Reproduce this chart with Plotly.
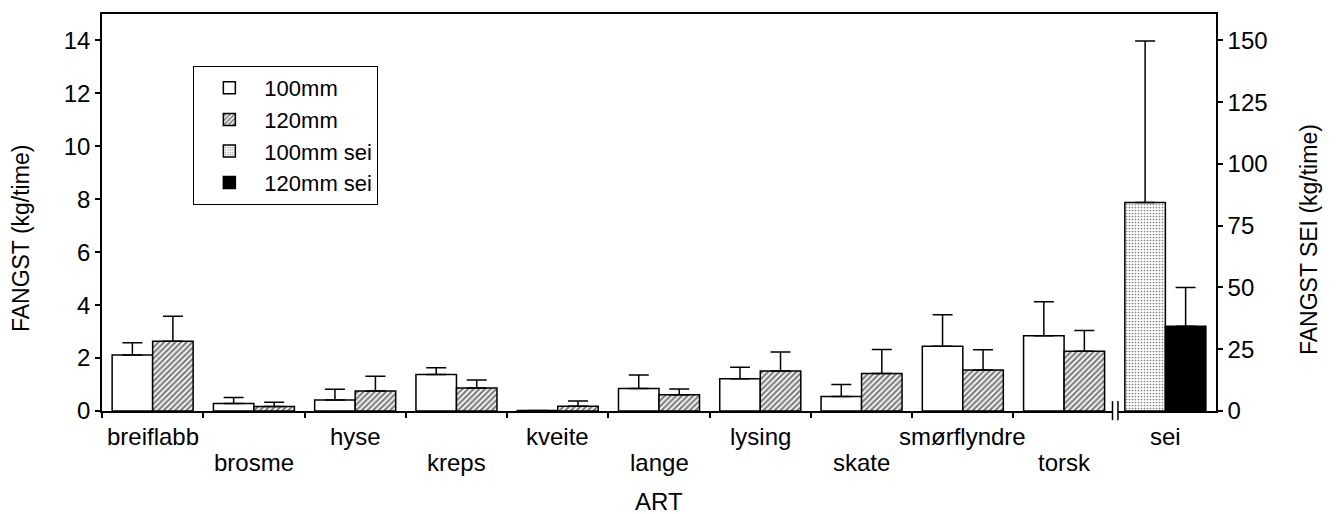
import plotly.graph_objects as go

categories = ["breiflabb", "brosme", "hyse", "kreps", "kveite", "lange",
              "lysing", "skate", "smørflyndre", "torsk"]
sei_category = "sei"

mean_100 = [2.12, 0.28, 0.42, 1.38, 0.02, 0.85, 1.22, 0.55, 2.45, 2.84]
err_100 = [0.46, 0.23, 0.40, 0.25, 0.00, 0.51, 0.43, 0.45, 1.19, 1.29]
mean_120 = [2.64, 0.17, 0.76, 0.87, 0.18, 0.61, 1.51, 1.42, 1.55, 2.26]
err_120 = [0.94, 0.16, 0.55, 0.30, 0.20, 0.22, 0.72, 0.90, 0.76, 0.78]

sei_mean_100 = [84.4]
sei_err_100 = [65.4]
sei_mean_120 = [34.3]
sei_err_120 = [15.7]

series_names = ["100mm", "120mm", "100mm sei", "120mm sei"]
left_ticks = [0, 2, 4, 6, 8, 10, 12, 14]
right_ticks = [0, 25, 50, 75, 100, 125, 150]

FONT = "Liberation Sans, Arial, sans-serif"
all_cats = categories + [sei_category]
xpos = list(range(len(categories)))
sei_x = [len(categories)]

line = dict(color="black", width=1.5)


def err(vals):
    return dict(type="data", symmetric=False, array=vals,
                arrayminus=[0] * len(vals), color="black",
                thickness=1.5, width=10)


fig = go.Figure()
fig.add_trace(go.Bar(
    name=series_names[0], x=xpos, y=mean_100, width=0.4, offset=-0.4,
    marker=dict(color="white", line=line), error_y=err(err_100)))
fig.add_trace(go.Bar(
    name=series_names[1], x=xpos, y=mean_120, width=0.4, offset=0.0,
    marker=dict(color="white", line=line,
                pattern=dict(shape="/", size=4, solidity=0.55,
                             fgcolor="black", bgcolor="white")),
    error_y=err(err_120)))
fig.add_trace(go.Bar(
    name=series_names[2], x=sei_x, y=sei_mean_100, width=0.4, offset=-0.4,
    yaxis="y2",
    marker=dict(color="white", line=line,
                pattern=dict(shape=".", size=3, solidity=0.25,
                             fgcolor="black", bgcolor="white")),
    error_y=err(sei_err_100)))
fig.add_trace(go.Bar(
    name=series_names[3], x=sei_x, y=sei_mean_120, width=0.4, offset=0.0,
    yaxis="y2",
    marker=dict(color="black", line=line), error_y=err(sei_err_120)))

boundaries = [i - 0.5 for i in range(len(categories))]

label_annotations = [
    dict(text=c, xref="x", yref="paper", x=i,
         y=(-0.129 if i % 2 else -0.064), xanchor="center",
         yanchor="middle", showarrow=False, font=dict(size=24))
    for i, c in enumerate(all_cats)
]

fig.update_layout(
    width=1337, height=514,
    margin=dict(l=102, r=121, t=12, b=103),
    paper_bgcolor="white", plot_bgcolor="white",
    font=dict(family=FONT, size=24, color="black"),
    barmode="overlay",
    showlegend=True,
    legend=dict(x=0.082, y=0.869, xanchor="left", yanchor="top",
                bordercolor="black", borderwidth=1, bgcolor="white",
                font=dict(size=22), tracegroupgap=0, itemwidth=60,
                traceorder="normal"),
    xaxis=dict(range=[-0.5, len(all_cats) - 0.5], tickmode="array",
               tickvals=[], ticks="", showticklabels=False,
               showline=True, linecolor="black", linewidth=1.5,
               mirror=True, showgrid=False, zeroline=False,
               minor=dict(tickmode="array", tickvals=boundaries,
                          ticks="outside", ticklen=5, tickwidth=1.5,
                          tickcolor="black", showgrid=False)),
    yaxis=dict(range=[0, 15], tickmode="array", tickvals=left_ticks,
               ticks="outside", ticklen=5, tickwidth=1.5, tickcolor="black",
               showline=True, linecolor="black", linewidth=1.5,
               showgrid=False, zeroline=False),
    yaxis2=dict(range=[0, 150 * 15 / 14], tickmode="array",
                tickvals=right_ticks, overlaying="y", side="right",
                ticks="outside", ticklen=5, tickwidth=1.5, tickcolor="black",
                showline=True, linecolor="black", linewidth=1.5,
                showgrid=False, zeroline=False),
    annotations=label_annotations + [
        dict(text="FANGST (kg/time)", textangle=-90, xref="paper",
             yref="paper", x=-0.072, y=0.435, xanchor="center",
             yanchor="middle", showarrow=False, font=dict(size=23)),
        dict(text="FANGST SEI (kg/time)", textangle=-90, xref="paper",
             yref="paper", x=1.084, y=0.432, xanchor="center",
             yanchor="middle", showarrow=False, font=dict(size=23)),
        dict(text="ART", xref="paper", yref="paper", x=0.5, y=-0.229,
             xanchor="center", yanchor="middle", showarrow=False,
             font=dict(size=24)),
    ],
    shapes=[
        dict(type="rect", xref="x", yref="paper", x0=9.475, x1=9.535,
             y0=-0.006, y1=0.006, fillcolor="white", line=dict(width=0),
             layer="above"),
        dict(type="line", xref="x", yref="paper", x0=9.478, x1=9.478,
             y0=-0.023, y1=0.025, line=dict(color="black", width=1.5),
             layer="above"),
        dict(type="line", xref="x", yref="paper", x0=9.532, x1=9.532,
             y0=-0.023, y1=0.025, line=dict(color="black", width=1.5),
             layer="above"),
    ],
)

fig.write_html("out.html")
